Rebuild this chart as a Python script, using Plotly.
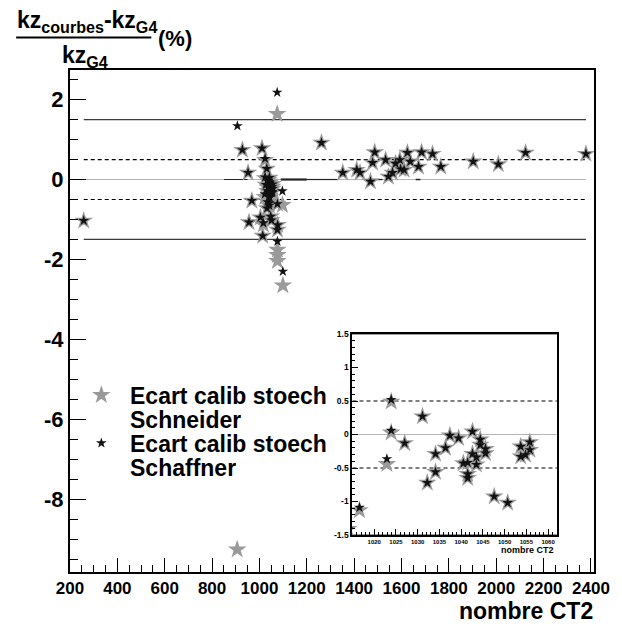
import plotly.graph_objects as go

# ---------------- data ----------------
# Schneider (grey big stars)
schneider_x = [258, 906, 928, 952, 956, 968, 1004, 1011, 1014,
               1016.6, 1022.9, 1023.9, 1023.9, 1027.0, 1031.1, 1032.2, 1034.1, 1034.1,
               1036.4, 1037.4, 1039.4, 1040.5, 1041.5, 1041.5, 1041.5, 1042.6, 1042.6,
               1043.5, 1043.5, 1044.4, 1044.4, 1045.6, 1045.6, 1047.6, 1050.7, 1053.7,
               1053.7, 1054.8, 1055.8, 1055.8,
               1075, 1076, 1076, 1077, 1076, 1076, 1076, 1097, 1099,
               1262, 1352, 1411, 1425, 1469, 1478, 1487, 1533, 1545, 1562, 1575, 1593,
               1596, 1611, 1625, 1637, 1672, 1685, 1731, 1766, 1903, 2009, 2124, 2379]
schneider_y = [-1.03, -9.26, 0.74, 0.17, -1.07, -0.53, -0.95, 0.78, -1.41,
               -1.13, -0.44, 0.49, 0.03, -0.13, 0.27, -0.72, -0.29, -0.56,
               -0.20, -0.015, -0.055, -0.43, -0.42, -0.59, -0.65, 0.045, -0.29,
               -0.34, -0.45, -0.075, -0.155, -0.215, -0.28, -0.925, -1.02, -0.18,
               -0.33, -0.305, -0.115, -0.23,
               1.64, -0.61, -1.26, -1.14, -1.76, -1.89, -2.04, -0.64, -2.65,
               0.92, 0.17, 0.24, 0.17, -0.05, 0.42, 0.68, 0.49, 0.07, 0.17, 0.40, 0.49,
               0.26, 0.24, 0.67, 0.45, 0.32, 0.68, 0.64, 0.32, 0.45, 0.38, 0.67, 0.64]

# Schaffner (black small stars)
schaffner_x = [258, 907, 928, 952, 956, 968, 1004, 1011, 1014,
               1016.6, 1022.9, 1023.9, 1023.9, 1027.0, 1031.1, 1032.2, 1034.1, 1034.1,
               1036.4, 1037.4, 1039.4, 1040.5, 1041.5, 1041.5, 1041.5, 1042.6, 1042.6,
               1043.5, 1043.5, 1044.4, 1044.4, 1045.6, 1045.6, 1047.6, 1050.7, 1053.7,
               1053.7, 1054.8, 1055.8, 1055.8,
               1075, 1076, 1076, 1077, 1076, 1097, 1099,
               1262, 1352, 1411, 1425, 1469, 1478, 1487, 1533, 1545, 1562, 1575, 1593,
               1596, 1611, 1625, 1637, 1672, 1685, 1731, 1766, 1903, 2009, 2124, 2379]
schaffner_y = [-1.03, 1.34, 0.74, 0.17, -1.07, -0.53, -0.95, 0.78, -1.41,
               -1.09, -0.365, 0.52, 0.06, -0.13, 0.27, -0.72, -0.29, -0.56,
               -0.20, -0.015, -0.055, -0.43, -0.42, -0.59, -0.65, 0.045, -0.29,
               -0.34, -0.45, -0.075, -0.155, -0.215, -0.28, -0.925, -1.02, -0.18,
               -0.33, -0.305, -0.115, -0.23,
               2.18, -0.61, -1.26, -1.14, -1.55, -0.29, -2.30,
               0.92, 0.17, 0.24, 0.17, -0.05, 0.42, 0.68, 0.49, 0.07, 0.17, 0.40, 0.49,
               0.26, 0.24, 0.67, 0.45, 0.32, 0.68, 0.64, 0.32, 0.45, 0.38, 0.67, 0.64]

series_names = ["Ecart calib stoech", "Schneider", "Ecart calib stoech", "Schaffner"]

# reference levels
solid_levels = [1.5, -1.5]
dashed_levels = [0.5, -0.5]
zero_level = [0.0]
# short black segments along the zero line
zero_segments = [(850, 950), (1090, 1200), (1200, 1330), (1480, 1520), (1660, 1680)]
zero_seg_widths = [1.0, 2.2, 1.2, 1.3, 1.5]

x_tick_vals = [200, 400, 600, 800, 1000, 1200, 1400, 1600, 1800, 2000, 2200, 2400]
y_tick_vals = [2, 0, -2, -4, -6, -8]
inset_x_ticks = [1020, 1025, 1030, 1035, 1040, 1045, 1050, 1055, 1060]
inset_y_ticks = [1.5, 1, 0.5, 0, -0.5, -1, -1.5]

# ---------------- layout constants ----------------
W, H = 622, 626
L, R, T, B = 70, 17, 70, 54
PW, PH = W - L - R, H - T - B
XR = [200, 2413]
YR = [-9.82, 2.74]
IXR = [1014.9, 1062.0]
IYR = [-1.5, 1.5]
FONT = "Liberation Sans"
GREY = "#9a9a9a"
BLACK = "#111111"


def px2x(px):
    return (px - L) / PW


def py2y(py):
    return (H - B - py) / PH


def px2data(px):
    return XR[0] + (px - L) / PW * (XR[1] - XR[0])


def py2data(py):
    return YR[1] - (py - T) / PH * (YR[1] - YR[0])


def bold(v):
    return "<b>%s</b>" % v


def fmt(v):
    return bold("%g" % v)


fig = go.Figure()

all_x = schneider_x + schaffner_x
xmin, xmax = min(all_x), max(all_x)

for xa, ya in [("x", "y"), ("x2", "y2")]:
    fig.add_trace(go.Scatter(x=[xmin, xmax], y=zero_level * 2, mode="lines",
                             line=dict(color="#b4b4b4", width=1), xaxis=xa, yaxis=ya,
                             showlegend=False, hoverinfo="skip"))
    for lv in solid_levels:
        fig.add_trace(go.Scatter(x=[xmin, xmax], y=[lv, lv], mode="lines",
                                 line=dict(color="#3a3a3a", width=1.2), xaxis=xa, yaxis=ya,
                                 showlegend=False, hoverinfo="skip"))
    for lv in dashed_levels:
        fig.add_trace(go.Scatter(x=[xmin, xmax], y=[lv, lv], mode="lines",
                                 line=dict(color="black", width=1.2, dash="4px,3px"),
                                 xaxis=xa, yaxis=ya, showlegend=False, hoverinfo="skip"))

for (a, b), w in zip(zero_segments, zero_seg_widths):
    fig.add_trace(go.Scatter(x=[a, b], y=zero_level * 2, mode="lines",
                             line=dict(color="#222222", width=w), showlegend=False,
                             hoverinfo="skip"))

for xa, ya in [("x", "y"), ("x2", "y2")]:
    fig.add_trace(go.Scatter(x=schneider_x, y=schneider_y, mode="markers",
                             marker=dict(symbol="star", size=14, color=GREY,
                                         line=dict(width=0)),
                             xaxis=xa, yaxis=ya, showlegend=False,
                             name=series_names[0] + " " + series_names[1]))
    fig.add_trace(go.Scatter(x=schaffner_x, y=schaffner_y, mode="markers",
                             marker=dict(symbol="star", size=8, color=BLACK,
                                         line=dict(width=0)),
                             xaxis=xa, yaxis=ya, showlegend=False,
                             name=series_names[2] + " " + series_names[3]))

# legend symbols (drawn on main axes)
fig.add_trace(go.Scatter(x=[px2data(102)], y=[py2data(395)], mode="markers",
                         marker=dict(symbol="star", size=14, color=GREY),
                         showlegend=False, hoverinfo="skip"))
fig.add_trace(go.Scatter(x=[px2data(102)], y=[py2data(443)], mode="markers",
                         marker=dict(symbol="star", size=8, color=BLACK),
                         showlegend=False, hoverinfo="skip"))


def ann(text, x, y, size, xanchor="left", yanchor="middle", height=None):
    d = dict(text=bold(text), x=px2x(x), y=py2y(y), xref="paper", yref="paper",
             xanchor=xanchor, yanchor=yanchor, showarrow=False,
             font=dict(family=FONT, size=size, color="black"))
    if height is not None:
        d["height"] = height
        d["valign"] = "middle"
    return d


annotations = []
for txt, py in zip(series_names, [396, 420, 444, 468]):
    annotations.append(ann(txt, 129, py, 23, height=22))

# y title as a fraction
annotations.append(ann("kz<sub>courbes</sub>-kz<sub>G4</sub>", 14, 38, 23, yanchor="bottom"))
annotations.append(ann("kz<sub>G4</sub>", 85, 40, 23, xanchor="center", yanchor="top"))
annotations.append(ann("(%)", 158, 38, 22))
# x titles
annotations.append(ann("nombre CT2", 606, 611, 23, xanchor="right", height=22))
annotations.append(ann("nombre CT2", 566, 550, 9, xanchor="right"))

shapes = [dict(type="line", xref="paper", yref="paper", x0=px2x(15), x1=px2x(153),
               y0=py2y(37.5), y1=py2y(37.5), line=dict(color="black", width=2))]

tickfont_main_x = dict(family=FONT, size=17, color="black")
tickfont_main_y = dict(family=FONT, size=22, color="black")

fig.update_layout(
    width=W, height=H,
    margin=dict(l=L, r=R, t=T, b=B),
    paper_bgcolor="white", plot_bgcolor="white",
    showlegend=False,
    annotations=annotations,
    shapes=shapes,
    xaxis=dict(range=XR, tickvals=x_tick_vals, ticktext=[fmt(v) for v in x_tick_vals],
               ticks="inside", ticklen=14, tickwidth=1, tickcolor="black",
               minor=dict(dtick=50, tick0=200, ticks="inside", ticklen=7, tickcolor="black"),
               showline=True, linewidth=2, linecolor="black", mirror=True,
               showgrid=False, zeroline=False, tickfont=tickfont_main_x),
    yaxis=dict(range=YR, tickvals=y_tick_vals, ticktext=[fmt(v) for v in y_tick_vals],
               ticks="inside", ticklen=16, tickwidth=1, tickcolor="black",
               minor=dict(dtick=0.5, tick0=0, ticks="inside", ticklen=8, tickcolor="black"),
               showline=True, linewidth=2, linecolor="black", mirror=True,
               showgrid=False, zeroline=False, tickfont=tickfont_main_y),
    xaxis2=dict(domain=[px2x(358), px2x(567)], anchor="y2", range=IXR,
                tickvals=inset_x_ticks, ticktext=[fmt(v) for v in inset_x_ticks],
                ticks="inside", ticklen=6, tickwidth=1, tickcolor="black",
                minor=dict(dtick=1, tick0=1020, ticks="inside", ticklen=3, tickcolor="black"),
                showline=True, linewidth=1.5, linecolor="black", mirror=True,
                showgrid=False, zeroline=False,
                tickfont=dict(family=FONT, size=6, color="black")),
    yaxis2=dict(domain=[py2y(535), py2y(334)], anchor="x2", range=IYR,
                tickvals=inset_y_ticks, ticktext=[fmt(v) for v in inset_y_ticks],
                ticks="inside", ticklen=6, tickwidth=1, tickcolor="black",
                minor=dict(dtick=0.1, tick0=0, ticks="inside", ticklen=3, tickcolor="black"),
                showline=True, linewidth=1.5, linecolor="black", mirror=True,
                showgrid=False, zeroline=False,
                tickfont=dict(family=FONT, size=8.5, color="black")),
)

fig.write_html("out.html")
